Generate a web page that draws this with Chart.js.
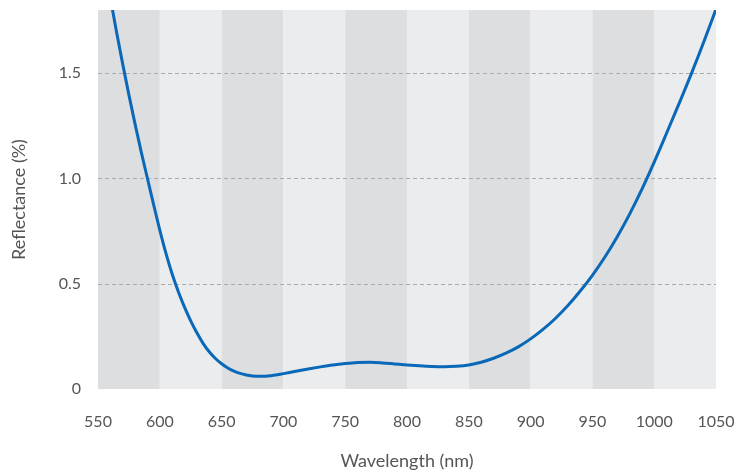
<!DOCTYPE html>
<html>
<head>
<meta charset="utf-8">
<script src="https://cdn.jsdelivr.net/npm/chart.js@4/dist/chart.umd.min.js"></script>
<style>
  html, body { margin: 0; padding: 0; background: #ffffff; }
  #wrap { width: 752px; height: 474px; position: relative; }
</style>
</head>
<body>
<div id="wrap"><canvas id="chart"></canvas></div>
<script>
// Reflectance spectrum (wavelength in nm, reflectance in %)
const wavelengths = [560, 565, 570, 575, 580, 585, 590, 595, 600, 605, 610, 615, 620, 625, 630, 635, 640, 645, 650, 655, 660, 665, 670, 675, 680, 685, 690, 695, 700, 710, 720, 730, 740, 750, 760, 770, 780, 790, 800, 810, 820, 830, 840, 850, 860, 870, 880, 890, 900, 910, 920, 930, 940, 950, 960, 970, 980, 990, 1000, 1010, 1020, 1030, 1040, 1050];
const reflectance = [1.857, 1.696, 1.543, 1.397, 1.258, 1.125, 1.000, 0.876, 0.755, 0.644, 0.546, 0.462, 0.389, 0.324, 0.267, 0.217, 0.177, 0.145, 0.120, 0.100, 0.085, 0.074, 0.0667, 0.062, 0.060, 0.0605, 0.063, 0.0675, 0.073, 0.084, 0.095, 0.105, 0.114, 0.121, 0.126, 0.127, 0.124, 0.119, 0.114, 0.110, 0.107, 0.106, 0.108, 0.114, 0.127, 0.146, 0.170, 0.200, 0.238, 0.283, 0.335, 0.395, 0.464, 0.540, 0.6255, 0.722, 0.8295, 0.948, 1.0775, 1.2145, 1.354, 1.4965, 1.6465, 1.8045];

// Axis ticks and alternating background bands
const xTicks = [550, 600, 650, 700, 750, 800, 850, 900, 950, 1000, 1050];
const yTicks = [0, 0.5, 1.0, 1.5];
const bandEdges = [550, 600, 650, 700, 750, 800, 850, 900, 950, 1000, 1050];

const FONT = "Lato, 'Open Sans', sans-serif";

const bandPlugin = {
  id: 'bands',
  beforeDatasetsDraw(chart) {
    const { ctx, chartArea, scales } = chart;
    ctx.save();
    for (let i = 0; i < bandEdges.length - 1; i++) {
      const x0 = scales.x.getPixelForValue(bandEdges[i]);
      const x1 = scales.x.getPixelForValue(bandEdges[i + 1]);
      ctx.fillStyle = i % 2 === 0 ? '#dddee0' : '#ebeced';
      ctx.fillRect(x0, chartArea.top, x1 - x0, chartArea.bottom - chartArea.top);
    }
    // dashed horizontal guides
    ctx.strokeStyle = '#a9aaac';
    ctx.lineWidth = 1;
    ctx.setLineDash([4, 3]);
    for (const v of yTicks) {
      if (v === 0) continue;
      const y = Math.round(scales.y.getPixelForValue(v)) + 0.5;
      ctx.beginPath();
      ctx.moveTo(chartArea.left, y);
      ctx.lineTo(chartArea.right, y);
      ctx.stroke();
    }
    ctx.restore();
  }
};

new Chart(document.getElementById('chart'), {
  type: 'line',
  data: {
    datasets: [{
      data: wavelengths.map((w, i) => ({ x: w, y: reflectance[i] })),
      borderColor: '#0a68b8',
      borderWidth: 3,
      pointRadius: 0,
      cubicInterpolationMode: 'monotone',
      fill: false
    }]
  },
  options: {
    responsive: true,
    maintainAspectRatio: false,
    animation: false,
    devicePixelRatio: 1,
    layout: { padding: { top: 10, right: 36, left: 0, bottom: 0 } },
    plugins: { legend: { display: false }, tooltip: { enabled: false } },
    scales: {
      x: {
        type: 'linear',
        min: 550,
        max: 1050,
        afterBuildTicks: (scale) => { scale.ticks = xTicks.map(v => ({ value: v })); },
        afterFit: (scale) => {
          scale.height = 85;
          scale.paddingLeft = 0; scale.paddingRight = 0;
        },
        grid: { display: false, drawTicks: false },
        border: { display: false },
        ticks: {
          padding: 23,
          color: '#555555',
          font: { family: FONT, size: 16 },
          callback: (v) => String(v)
        },
        title: {
          display: true,
          text: 'Wavelength (nm)',
          color: '#555555',
          font: { family: FONT, size: 18 },
          padding: { top: 0, bottom: 2 }
        }
      },
      y: {
        min: 0,
        max: 1.8,
        afterBuildTicks: (scale) => { scale.ticks = yTicks.map(v => ({ value: v })); },
        afterFit: (scale) => {
          scale.width = 98;
          scale.paddingTop = 0; scale.paddingBottom = 0;
        },
        grid: { display: false, drawTicks: false },
        border: { display: false },
        ticks: {
          padding: 17,
          color: '#555555',
          font: { family: FONT, size: 16 },
          callback: (v) => v === 0 ? '0' : v.toFixed(1)
        },
        title: {
          display: true,
          text: 'Reflectance (%)',
          color: '#555555',
          font: { family: FONT, size: 18 },
          padding: { top: 8, bottom: 0 }
        }
      }
    }
  },
  plugins: [bandPlugin]
});
</script>
</body>
</html>
